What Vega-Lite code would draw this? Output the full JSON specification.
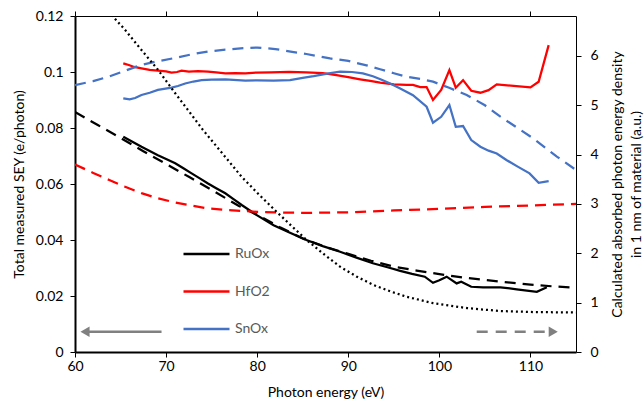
{
  "$schema": "https://vega.github.io/schema/vega-lite/v6.json",
  "width": 501,
  "height": 336,
  "autosize": {"type": "none"},
  "padding": {"left": 75, "top": 16, "right": 68, "bottom": 51},
  "config": {
    "view": {"stroke": null},
    "font": "Lato",
    "axis": {
      "labelFont": "Lato",
      "titleFont": "Lato",
      "labelFontSize": 14,
      "titleFontSize": 14,
      "titleFontWeight": "normal",
      "labelColor": "#000000",
      "titleColor": "#000000",
      "domainColor": "#000000",
      "tickColor": "#000000",
      "tickSize": 5,
      "labelFlush": false,
      "labelOverlap": false,
      "grid": false
    }
  },
  "datasets": {
    "sey": [
      {"material": "RuOx", "energy": 65.3, "sey": 0.0769},
      {"material": "RuOx", "energy": 66.3, "sey": 0.0751},
      {"material": "RuOx", "energy": 67.3, "sey": 0.0733},
      {"material": "RuOx", "energy": 68.2, "sey": 0.0718},
      {"material": "RuOx", "energy": 69.1, "sey": 0.0703},
      {"material": "RuOx", "energy": 70.0, "sey": 0.0689},
      {"material": "RuOx", "energy": 71.0, "sey": 0.0674},
      {"material": "RuOx", "energy": 71.9, "sey": 0.0656},
      {"material": "RuOx", "energy": 72.8, "sey": 0.0638},
      {"material": "RuOx", "energy": 73.7, "sey": 0.062},
      {"material": "RuOx", "energy": 74.6, "sey": 0.0602},
      {"material": "RuOx", "energy": 75.5, "sey": 0.0585},
      {"material": "RuOx", "energy": 76.5, "sey": 0.0567},
      {"material": "RuOx", "energy": 77.4, "sey": 0.0546},
      {"material": "RuOx", "energy": 78.3, "sey": 0.0525},
      {"material": "RuOx", "energy": 80.0, "sey": 0.0488},
      {"material": "RuOx", "energy": 81.8, "sey": 0.0453},
      {"material": "RuOx", "energy": 83.6, "sey": 0.0426},
      {"material": "RuOx", "energy": 85.4, "sey": 0.04},
      {"material": "RuOx", "energy": 87.2, "sey": 0.0378},
      {"material": "RuOx", "energy": 89.1, "sey": 0.0358},
      {"material": "RuOx", "energy": 90.9, "sey": 0.0337},
      {"material": "RuOx", "energy": 92.7, "sey": 0.0317},
      {"material": "RuOx", "energy": 94.5, "sey": 0.0301},
      {"material": "RuOx", "energy": 95.7, "sey": 0.029},
      {"material": "RuOx", "energy": 97.0, "sey": 0.0279},
      {"material": "RuOx", "energy": 98.4, "sey": 0.0269},
      {"material": "RuOx", "energy": 99.3, "sey": 0.0247},
      {"material": "RuOx", "energy": 100.0, "sey": 0.0256},
      {"material": "RuOx", "energy": 100.8, "sey": 0.0269},
      {"material": "RuOx", "energy": 101.9, "sey": 0.0245},
      {"material": "RuOx", "energy": 102.4, "sey": 0.0251},
      {"material": "RuOx", "energy": 103.5, "sey": 0.0233},
      {"material": "RuOx", "energy": 104.8, "sey": 0.0231},
      {"material": "RuOx", "energy": 106.7, "sey": 0.0231},
      {"material": "RuOx", "energy": 108.5, "sey": 0.0224},
      {"material": "RuOx", "energy": 110.7, "sey": 0.0215},
      {"material": "RuOx", "energy": 111.8, "sey": 0.0231},
      {"material": "HfO2", "energy": 65.3, "sey": 0.1031},
      {"material": "HfO2", "energy": 65.9, "sey": 0.1025},
      {"material": "HfO2", "energy": 66.5, "sey": 0.1018},
      {"material": "HfO2", "energy": 67.3, "sey": 0.1013},
      {"material": "HfO2", "energy": 68.2, "sey": 0.1008},
      {"material": "HfO2", "energy": 69.1, "sey": 0.1005},
      {"material": "HfO2", "energy": 70.0, "sey": 0.1002},
      {"material": "HfO2", "energy": 70.6, "sey": 0.0998},
      {"material": "HfO2", "energy": 71.2, "sey": 0.1},
      {"material": "HfO2", "energy": 71.7, "sey": 0.1005},
      {"material": "HfO2", "energy": 72.5, "sey": 0.1001},
      {"material": "HfO2", "energy": 73.5, "sey": 0.1003},
      {"material": "HfO2", "energy": 74.6, "sey": 0.1001},
      {"material": "HfO2", "energy": 75.5, "sey": 0.0999},
      {"material": "HfO2", "energy": 76.5, "sey": 0.0995},
      {"material": "HfO2", "energy": 77.6, "sey": 0.0996},
      {"material": "HfO2", "energy": 78.7, "sey": 0.0995},
      {"material": "HfO2", "energy": 79.9, "sey": 0.0998},
      {"material": "HfO2", "energy": 81.5, "sey": 0.0999},
      {"material": "HfO2", "energy": 83.5, "sey": 0.1},
      {"material": "HfO2", "energy": 85.4, "sey": 0.0999},
      {"material": "HfO2", "energy": 87.2, "sey": 0.0996},
      {"material": "HfO2", "energy": 88.7, "sey": 0.0989},
      {"material": "HfO2", "energy": 90.0, "sey": 0.0982},
      {"material": "HfO2", "energy": 91.3, "sey": 0.0974},
      {"material": "HfO2", "energy": 92.4, "sey": 0.0968},
      {"material": "HfO2", "energy": 93.5, "sey": 0.0962},
      {"material": "HfO2", "energy": 95.0, "sey": 0.0956},
      {"material": "HfO2", "energy": 96.4, "sey": 0.0954},
      {"material": "HfO2", "energy": 97.1, "sey": 0.0954},
      {"material": "HfO2", "energy": 97.9, "sey": 0.0946},
      {"material": "HfO2", "energy": 98.6, "sey": 0.0946},
      {"material": "HfO2", "energy": 99.3, "sey": 0.09},
      {"material": "HfO2", "energy": 100.2, "sey": 0.0936},
      {"material": "HfO2", "energy": 101.1, "sey": 0.1007},
      {"material": "HfO2", "energy": 101.8, "sey": 0.0944},
      {"material": "HfO2", "energy": 102.6, "sey": 0.0971},
      {"material": "HfO2", "energy": 103.5, "sey": 0.0933},
      {"material": "HfO2", "energy": 104.5, "sey": 0.0926},
      {"material": "HfO2", "energy": 105.4, "sey": 0.0935},
      {"material": "HfO2", "energy": 106.3, "sey": 0.0956},
      {"material": "HfO2", "energy": 110.0, "sey": 0.0945},
      {"material": "HfO2", "energy": 110.9, "sey": 0.0965},
      {"material": "HfO2", "energy": 112.0, "sey": 0.1096},
      {"material": "SnOx", "energy": 65.3, "sey": 0.0906},
      {"material": "SnOx", "energy": 66.0, "sey": 0.0902},
      {"material": "SnOx", "energy": 66.6, "sey": 0.0907},
      {"material": "SnOx", "energy": 67.3, "sey": 0.0918},
      {"material": "SnOx", "energy": 68.2, "sey": 0.0926},
      {"material": "SnOx", "energy": 69.1, "sey": 0.0936},
      {"material": "SnOx", "energy": 70.6, "sey": 0.0944},
      {"material": "SnOx", "energy": 71.3, "sey": 0.095},
      {"material": "SnOx", "energy": 72.1, "sey": 0.0959},
      {"material": "SnOx", "energy": 73.0, "sey": 0.0966},
      {"material": "SnOx", "energy": 73.9, "sey": 0.0971},
      {"material": "SnOx", "energy": 75.0, "sey": 0.0973},
      {"material": "SnOx", "energy": 76.5, "sey": 0.0974},
      {"material": "SnOx", "energy": 78.7, "sey": 0.0969},
      {"material": "SnOx", "energy": 80.0, "sey": 0.097},
      {"material": "SnOx", "energy": 81.8, "sey": 0.0969},
      {"material": "SnOx", "energy": 83.6, "sey": 0.0971},
      {"material": "SnOx", "energy": 85.0, "sey": 0.0979},
      {"material": "SnOx", "energy": 86.2, "sey": 0.0985},
      {"material": "SnOx", "energy": 87.7, "sey": 0.0994},
      {"material": "SnOx", "energy": 89.1, "sey": 0.1001},
      {"material": "SnOx", "energy": 90.4, "sey": 0.1},
      {"material": "SnOx", "energy": 91.6, "sey": 0.0995},
      {"material": "SnOx", "energy": 92.7, "sey": 0.0985},
      {"material": "SnOx", "energy": 93.6, "sey": 0.0973},
      {"material": "SnOx", "energy": 94.6, "sey": 0.0959},
      {"material": "SnOx", "energy": 95.7, "sey": 0.0941},
      {"material": "SnOx", "energy": 97.1, "sey": 0.0917},
      {"material": "SnOx", "energy": 98.6, "sey": 0.0876},
      {"material": "SnOx", "energy": 99.3, "sey": 0.0819},
      {"material": "SnOx", "energy": 100.2, "sey": 0.084},
      {"material": "SnOx", "energy": 101.1, "sey": 0.0882},
      {"material": "SnOx", "energy": 101.8, "sey": 0.0804},
      {"material": "SnOx", "energy": 102.6, "sey": 0.0807},
      {"material": "SnOx", "energy": 103.5, "sey": 0.0757},
      {"material": "SnOx", "energy": 104.5, "sey": 0.0733},
      {"material": "SnOx", "energy": 105.4, "sey": 0.0719},
      {"material": "SnOx", "energy": 106.3, "sey": 0.0709},
      {"material": "SnOx", "energy": 107.4, "sey": 0.0685},
      {"material": "SnOx", "energy": 108.6, "sey": 0.0662},
      {"material": "SnOx", "energy": 109.9, "sey": 0.0638},
      {"material": "SnOx", "energy": 110.9, "sey": 0.0604},
      {"material": "SnOx", "energy": 112.0, "sey": 0.061}
    ],
    "calc": [
      {"material": "RuOx", "energy": 60, "density": 4.865},
      {"material": "RuOx", "energy": 62.5, "density": 4.6},
      {"material": "RuOx", "energy": 65, "density": 4.338},
      {"material": "RuOx", "energy": 67.5, "density": 4.07},
      {"material": "RuOx", "energy": 70, "density": 3.811},
      {"material": "RuOx", "energy": 72.5, "density": 3.55},
      {"material": "RuOx", "energy": 75, "density": 3.284},
      {"material": "RuOx", "energy": 78, "density": 2.96},
      {"material": "RuOx", "energy": 80, "density": 2.78},
      {"material": "RuOx", "energy": 82.5, "density": 2.53},
      {"material": "RuOx", "energy": 85, "density": 2.3},
      {"material": "RuOx", "energy": 87.5, "density": 2.13},
      {"material": "RuOx", "energy": 90, "density": 1.99},
      {"material": "RuOx", "energy": 92.5, "density": 1.85},
      {"material": "RuOx", "energy": 95, "density": 1.73},
      {"material": "RuOx", "energy": 97.5, "density": 1.65},
      {"material": "RuOx", "energy": 100, "density": 1.58},
      {"material": "RuOx", "energy": 102.5, "density": 1.51},
      {"material": "RuOx", "energy": 105, "density": 1.46},
      {"material": "RuOx", "energy": 107.5, "density": 1.41},
      {"material": "RuOx", "energy": 110, "density": 1.365},
      {"material": "RuOx", "energy": 112.5, "density": 1.33},
      {"material": "RuOx", "energy": 115, "density": 1.304},
      {"material": "HfO2", "energy": 60, "density": 3.8},
      {"material": "HfO2", "energy": 62, "density": 3.63},
      {"material": "HfO2", "energy": 63.7, "density": 3.49},
      {"material": "HfO2", "energy": 65.5, "density": 3.35},
      {"material": "HfO2", "energy": 67.3, "density": 3.22},
      {"material": "HfO2", "energy": 69, "density": 3.12},
      {"material": "HfO2", "energy": 71, "density": 3.03},
      {"material": "HfO2", "energy": 73, "density": 2.96},
      {"material": "HfO2", "energy": 74.6, "density": 2.91},
      {"material": "HfO2", "energy": 76.5, "density": 2.88},
      {"material": "HfO2", "energy": 78.3, "density": 2.86},
      {"material": "HfO2", "energy": 80, "density": 2.84},
      {"material": "HfO2", "energy": 82, "density": 2.83},
      {"material": "HfO2", "energy": 85, "density": 2.82},
      {"material": "HfO2", "energy": 90, "density": 2.83},
      {"material": "HfO2", "energy": 95, "density": 2.87},
      {"material": "HfO2", "energy": 100, "density": 2.9},
      {"material": "HfO2", "energy": 105, "density": 2.94},
      {"material": "HfO2", "energy": 110, "density": 2.97},
      {"material": "HfO2", "energy": 115, "density": 3.0},
      {"material": "SnOx", "energy": 60, "density": 5.41},
      {"material": "SnOx", "energy": 62, "density": 5.49},
      {"material": "SnOx", "energy": 63.7, "density": 5.58},
      {"material": "SnOx", "energy": 65.5, "density": 5.7},
      {"material": "SnOx", "energy": 67.3, "density": 5.82},
      {"material": "SnOx", "energy": 69, "density": 5.89},
      {"material": "SnOx", "energy": 71, "density": 5.96},
      {"material": "SnOx", "energy": 73, "density": 6.04},
      {"material": "SnOx", "energy": 74.6, "density": 6.09},
      {"material": "SnOx", "energy": 76.5, "density": 6.13},
      {"material": "SnOx", "energy": 78.7, "density": 6.16},
      {"material": "SnOx", "energy": 80, "density": 6.17},
      {"material": "SnOx", "energy": 82, "density": 6.14},
      {"material": "SnOx", "energy": 84, "density": 6.08},
      {"material": "SnOx", "energy": 85.4, "density": 6.04},
      {"material": "SnOx", "energy": 88, "density": 5.95},
      {"material": "SnOx", "energy": 90, "density": 5.9},
      {"material": "SnOx", "energy": 92, "density": 5.81},
      {"material": "SnOx", "energy": 93.5, "density": 5.73},
      {"material": "SnOx", "energy": 95, "density": 5.65},
      {"material": "SnOx", "energy": 96.4, "density": 5.58},
      {"material": "SnOx", "energy": 98, "density": 5.53},
      {"material": "SnOx", "energy": 99.3, "density": 5.48},
      {"material": "SnOx", "energy": 101, "density": 5.36},
      {"material": "SnOx", "energy": 103, "density": 5.21},
      {"material": "SnOx", "energy": 105, "density": 5.0},
      {"material": "SnOx", "energy": 106.7, "density": 4.77},
      {"material": "SnOx", "energy": 108.5, "density": 4.55},
      {"material": "SnOx", "energy": 110.3, "density": 4.33},
      {"material": "SnOx", "energy": 112.9, "density": 3.96},
      {"material": "SnOx", "energy": 115, "density": 3.69}
    ],
    "dotted": [
      {"energy": 63, "density": 7.07},
      {"energy": 64.17, "density": 6.8},
      {"energy": 65.49, "density": 6.53},
      {"energy": 67.3, "density": 6.12},
      {"energy": 69.11, "density": 5.72},
      {"energy": 70.98, "density": 5.25},
      {"energy": 72.5, "density": 4.88},
      {"energy": 74.05, "density": 4.5},
      {"energy": 76.2, "density": 4.02},
      {"energy": 78.3, "density": 3.55},
      {"energy": 80.2, "density": 3.19},
      {"energy": 82.14, "density": 2.84},
      {"energy": 83.8, "density": 2.55},
      {"energy": 85.43, "density": 2.27},
      {"energy": 87.2, "density": 2.0},
      {"energy": 89.09, "density": 1.73},
      {"energy": 90.9, "density": 1.53},
      {"energy": 92.74, "density": 1.36},
      {"energy": 94.6, "density": 1.23},
      {"energy": 96.41, "density": 1.12},
      {"energy": 99.3, "density": 0.99},
      {"energy": 103.03, "density": 0.89},
      {"energy": 106.65, "density": 0.83},
      {"energy": 110.27, "density": 0.81},
      {"energy": 115, "density": 0.8}
    ]
  },
  "layer": [
    {
      "layer": [
        {
          "data": {"name": "sey"},
          "mark": {"type": "line", "strokeWidth": 2.25, "clip": true},
          "encoding": {
            "x": {"field": "energy", "type": "quantitative", "title": "Photon energy (eV)",
              "scale": {"domain": [60, 115], "nice": false, "zero": false},
              "axis": {"orient": "bottom", "values": [60, 70, 80, 90, 100, 110], "domainWidth": 2, "labelPadding": 2, "titlePadding": 12}},
            "y": {"field": "sey", "type": "quantitative", "title": "Total measured SEY (e/photon)",
              "scale": {"domain": [0, 0.12], "nice": false, "zero": true},
              "axis": {"orient": "left", "values": [0, 0.02, 0.04, 0.06, 0.08, 0.1, 0.12], "format": "~g", "domainWidth": 2, "labelPadding": 7, "titlePadding": 9}},
            "color": {"field": "material", "type": "nominal",
              "scale": {"domain": ["RuOx", "HfO2", "SnOx"], "range": ["#000000", "#FF0000", "#4472C4"]},
              "legend": {"orient": "none", "legendX": 107, "legendY": 228, "title": null, "padding": 0,
                "symbolType": "stroke", "symbolSize": 2116, "symbolStrokeWidth": 2.5, "symbolDash": [],
                "labelFont": "Lato", "labelFontSize": 14, "labelColor": "#595959", "labelOffset": 4,
                "clipHeight": 20, "rowPadding": 17.5}}
          }
        },
        {
          "data": {"values": [{}]},
          "mark": {"type": "rule", "color": "#808080", "strokeWidth": 2.5},
          "encoding": {
            "x": {"datum": 69.5, "type": "quantitative"},
            "x2": {"datum": 61.4},
            "y": {"datum": 0.00725, "type": "quantitative"}
          }
        },
        {
          "data": {"values": [{}]},
          "mark": {"type": "point", "shape": "triangle-left", "filled": true, "color": "#808080", "opacity": 1, "size": 110},
          "encoding": {
            "x": {"datum": 61.1, "type": "quantitative"},
            "y": {"datum": 0.00725, "type": "quantitative"}
          }
        },
        {
          "data": {"values": [{}]},
          "mark": {"type": "rule", "color": "#808080", "strokeWidth": 2.5, "strokeDash": [11, 8]},
          "encoding": {
            "x": {"datum": 104.1, "type": "quantitative"},
            "x2": {"datum": 112.0},
            "y": {"datum": 0.00725, "type": "quantitative"}
          }
        },
        {
          "data": {"values": [{}]},
          "mark": {"type": "point", "shape": "triangle-right", "filled": true, "color": "#808080", "opacity": 1, "size": 110},
          "encoding": {
            "x": {"datum": 112.5, "type": "quantitative"},
            "y": {"datum": 0.00725, "type": "quantitative"}
          }
        }
      ]
    },
    {
      "layer": [
        {
          "data": {"name": "calc"},
          "mark": {"type": "line", "strokeWidth": 2.25, "strokeDash": [11, 7], "clip": true},
          "encoding": {
            "x": {"field": "energy", "type": "quantitative",
              "scale": {"domain": [60, 115], "nice": false, "zero": false},
              "axis": {"orient": "top", "values": [60, 70, 80, 90, 100, 110], "labels": false, "title": null, "domainWidth": 1}},
            "y": {"field": "density", "type": "quantitative", "title": ["Calculated absorbed photon energy density", "in 1 nm of material (a.u.)"],
              "scale": {"domain": [0, 6.81], "nice": false, "zero": true},
              "axis": {"orient": "right", "values": [0, 1, 2, 3, 4, 5, 6], "domainWidth": 1, "labelPadding": 9, "titleAngle": 270, "titlePadding": 7, "titleLineHeight": 19}},
            "color": {"field": "material", "type": "nominal",
              "scale": {"domain": ["RuOx", "HfO2", "SnOx"], "range": ["#000000", "#FF0000", "#4472C4"]},
              "legend": null}
          }
        },
        {
          "data": {"name": "dotted"},
          "mark": {"type": "line", "strokeWidth": 2.25, "strokeDash": [2, 3], "color": "#000000", "clip": true},
          "encoding": {
            "x": {"field": "energy", "type": "quantitative",
              "scale": {"domain": [60, 115], "nice": false, "zero": false},
              "axis": {"orient": "top", "values": [60, 70, 80, 90, 100, 110], "labels": false, "title": null, "domainWidth": 1}},
            "y": {"field": "density", "type": "quantitative"}
          }
        }
      ]
    }
  ],
  "resolve": {"scale": {"y": "independent", "color": "independent"}, "axis": {"x": "independent"}}
}
